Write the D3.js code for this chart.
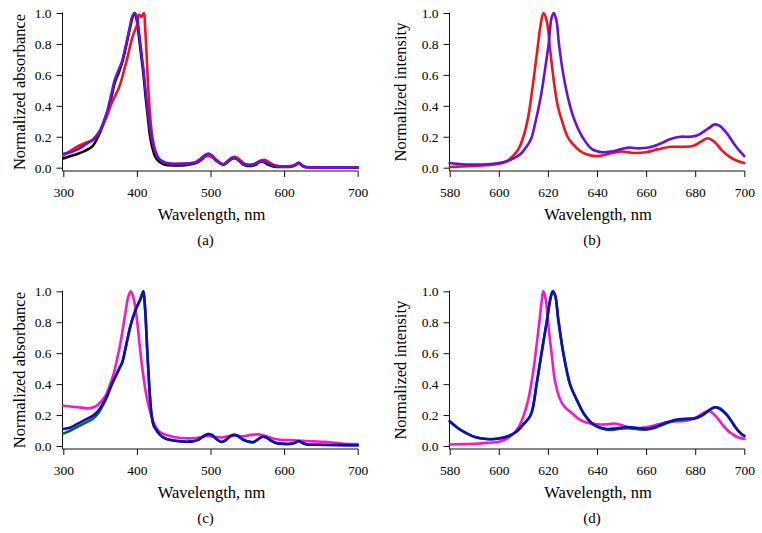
<!DOCTYPE html>
<html><head><meta charset="utf-8">
<script src="https://cdn.jsdelivr.net/npm/d3@7"></script>
<style>
body{margin:0;background:#fff}
svg{display:block}
text{font-family:"Liberation Serif","Times New Roman",serif;fill:#000}
</style>
</head><body>
<svg id="chart" width="762" height="533"></svg>
<script>
// ---------- tick labels ----------
const yTickValues = [0, 0.2, 0.4, 0.6, 0.8, 1.0];
const absTickValues = [300, 400, 500, 600, 700];
const emTickValues = [580, 600, 620, 640, 660, 680, 700];
const absDomain = [300, 700];
const emDomain = [580, 700];
const panelLetters = ["(a)", "(b)", "(c)", "(d)"];
const absTitle = "Normalized absorbance";
const emTitle = "Normalized intensity";
const xTitle = "Wavelength, nm";

// ---------- panel (a): absorbance ----------
const aBlackWl = [300,310,320,330,340,345,350,355,360,365,370,375,380,385,390,394,397,400,403,406,409,412,415,418,421,425,430,435,440,450,460,470,480,487,492,497,502,507,512,518,524,530,534,539,544,550,556,562,568,573,578,584,590,600,610,615,620,624,628,635,650,700];
const aBlack   = [0.06,0.075,0.09,0.11,0.14,0.18,0.23,0.29,0.36,0.45,0.55,0.61,0.68,0.78,0.89,0.97,1.0,0.95,0.84,0.72,0.6,0.45,0.32,0.2,0.13,0.07,0.04,0.025,0.017,0.014,0.015,0.02,0.03,0.05,0.07,0.082,0.07,0.05,0.03,0.02,0.04,0.06,0.06,0.045,0.022,0.012,0.012,0.02,0.04,0.035,0.02,0.01,0.005,0.005,0.007,0.015,0.03,0.015,0.005,0.002,0.0,0.0];

const aRedWl = [300,310,320,330,340,345,350,355,360,365,370,375,378,382,386,390,395,400,403,406,409.5,411,413,415,417,419,421,425,430,435,440,450,460,470,480,487,492,497,502,507,512,518,524,530,535,540,545,550,556,562,568,574,580,586,592,600,610,615,620,624,628,635,650,700];
const aRed   = [0.08,0.11,0.14,0.16,0.18,0.21,0.24,0.29,0.34,0.41,0.46,0.51,0.55,0.62,0.69,0.77,0.86,0.92,0.99,0.975,1.0,0.92,0.75,0.55,0.4,0.28,0.2,0.11,0.06,0.04,0.03,0.025,0.025,0.028,0.035,0.055,0.07,0.078,0.07,0.05,0.032,0.022,0.045,0.068,0.068,0.05,0.03,0.02,0.02,0.03,0.045,0.05,0.035,0.018,0.01,0.008,0.01,0.018,0.03,0.016,0.006,0.003,0.002,0.002];

const aPurpleWl = [300,310,320,330,340,345,350,355,360,365,370,375,380,385,390,394,397,400,403,406,409,412,415,418,421,425,430,435,440,450,460,470,480,487,492,497,502,507,512,518,524,530,534,539,544,550,556,562,568,573,578,584,590,600,610,615,620,624,628,635,650,700];
const aPurple   = [0.09,0.1,0.12,0.15,0.18,0.2,0.24,0.3,0.37,0.47,0.57,0.63,0.69,0.79,0.9,0.98,1.0,0.97,0.87,0.75,0.63,0.49,0.36,0.25,0.17,0.1,0.055,0.04,0.03,0.024,0.025,0.028,0.035,0.06,0.08,0.092,0.08,0.055,0.035,0.022,0.045,0.065,0.062,0.045,0.025,0.018,0.018,0.028,0.045,0.04,0.03,0.018,0.01,0.008,0.01,0.018,0.032,0.018,0.006,0.003,0.002,0.002];

// ---------- panel (b): emission ----------
const bRedWl = [580,585,590,595,600,603,606,608,610,612,614,616,617,618.2,619.5,621,622.5,624,626,628,630,633,636,640,645,650,655,660,665,670,675,679,682,685,688,691,694,697,700];
const bRed   = [0.005,0.008,0.012,0.016,0.025,0.04,0.08,0.12,0.2,0.33,0.55,0.8,0.92,1.0,0.95,0.75,0.55,0.4,0.29,0.2,0.155,0.11,0.085,0.075,0.09,0.105,0.095,0.1,0.12,0.135,0.135,0.14,0.165,0.19,0.165,0.11,0.07,0.045,0.03];

const bPurpleWl = [580,585,590,595,600,603,606,609,611,613,615,617,618.5,620.3,621.5,622.4,623.5,624.5,626.3,629,631,634,638,642,646,650,653,657,661,665,670,674,678,681,685,688,690,693,696,698,700];
const bPurple   = [0.03,0.022,0.02,0.022,0.03,0.04,0.06,0.09,0.13,0.18,0.3,0.45,0.6,0.8,0.97,1.0,0.95,0.8,0.6,0.4,0.3,0.2,0.12,0.1,0.105,0.12,0.13,0.125,0.13,0.15,0.185,0.2,0.2,0.21,0.25,0.28,0.27,0.22,0.15,0.11,0.075];

// ---------- panel (c): absorbance ----------
const cMagentaWl = [300,310,320,330,337,345,352,358,363,368,373,377,381,385,388,391.5,394,397,400,404,408,411,414,418,422,426,431,438,445,455,465,475,485,495,505,515,525,535,545,555,565,575,585,595,610,625,640,655,670,685,700];
const cMagenta   = [0.26,0.255,0.25,0.245,0.245,0.26,0.29,0.33,0.39,0.46,0.56,0.65,0.76,0.88,0.96,1.0,0.98,0.92,0.82,0.64,0.48,0.38,0.3,0.22,0.16,0.12,0.09,0.075,0.065,0.055,0.05,0.05,0.055,0.065,0.06,0.055,0.065,0.068,0.062,0.072,0.075,0.065,0.048,0.04,0.038,0.033,0.03,0.027,0.02,0.013,0.012];

const cSeriesWl = [300,310,320,330,340,348,354,360,366,372,376,380,384,388,392,396,400,404,407,408.7,410,412,414,416,418,420,423,427,432,438,445,455,465,475,482,488,493,497,502,508,515,520,526,532,537,543,550,558,565,571,576,582,590,600,608,614,620,625,631,645,670,700];
const cGreen = [0.08,0.1,0.125,0.15,0.175,0.215,0.265,0.325,0.4,0.46,0.5,0.54,0.62,0.71,0.79,0.85,0.9,0.94,0.98,1.0,0.96,0.82,0.62,0.45,0.3,0.2,0.13,0.1,0.07,0.05,0.04,0.032,0.028,0.03,0.038,0.055,0.07,0.078,0.07,0.045,0.026,0.035,0.06,0.073,0.065,0.045,0.03,0.025,0.045,0.06,0.055,0.035,0.018,0.014,0.014,0.02,0.032,0.02,0.01,0.008,0.006,0.005];
const cBlue  = [0.11,0.12,0.145,0.17,0.195,0.23,0.275,0.33,0.4,0.46,0.5,0.54,0.62,0.71,0.79,0.85,0.9,0.94,0.98,1.0,0.96,0.82,0.62,0.45,0.3,0.2,0.13,0.1,0.07,0.05,0.04,0.032,0.028,0.03,0.038,0.055,0.07,0.078,0.07,0.045,0.026,0.035,0.06,0.073,0.065,0.045,0.03,0.025,0.045,0.06,0.055,0.035,0.018,0.014,0.014,0.02,0.032,0.02,0.01,0.008,0.006,0.005];

// ---------- panel (d): emission ----------
const dMagentaWl = [580,585,590,595,600,603,606,608,610,612,614,615,616.5,617.5,618.1,619,620.4,621.5,622.9,625,627,630,633,636,640,644,647,650,653,657,661,665,669,673,677,681,684,686,688,691,694,697,700];
const dMagenta   = [0.01,0.012,0.015,0.02,0.028,0.045,0.08,0.12,0.19,0.3,0.48,0.6,0.8,0.94,1.0,0.96,0.75,0.6,0.42,0.3,0.25,0.21,0.17,0.15,0.14,0.14,0.145,0.135,0.12,0.115,0.125,0.14,0.155,0.16,0.165,0.19,0.22,0.225,0.2,0.14,0.09,0.06,0.045];

const dSeriesWl = [580,583,586,590,595,600,604,607,610,613,615.4,617.4,619.5,621,622,623,624.2,626.3,629,631.7,635,638.5,643.9,648,652,656,660,664,668,672,676,680,683,686,688,690,693,696,698,700];
const dGreen = [0.16,0.12,0.09,0.06,0.045,0.048,0.065,0.09,0.14,0.2,0.4,0.6,0.8,0.95,1.0,0.97,0.82,0.6,0.4,0.3,0.2,0.14,0.105,0.108,0.115,0.11,0.105,0.12,0.145,0.165,0.172,0.178,0.2,0.235,0.25,0.245,0.2,0.13,0.09,0.065];
const dBlue  = [0.16,0.12,0.09,0.06,0.045,0.048,0.065,0.09,0.14,0.2,0.4,0.6,0.8,0.95,1.0,0.97,0.82,0.6,0.4,0.3,0.2,0.14,0.11,0.115,0.122,0.118,0.112,0.125,0.15,0.17,0.176,0.18,0.2,0.235,0.25,0.24,0.2,0.13,0.09,0.065];

// ---------- drawing ----------
const svg = d3.select("#chart");
const colors = {black:"#000000", red:"#f0141a", purple:"#6a10dc", magenta:"#ff14c8", green:"#0b6a1e", blue:"#0c0cc4"};

const panels = [
  {x0:63.3, x1:357.7, yTop:13, yZero:167.7, axisY:171, domain:absDomain, ticks:absTickValues, ytitle:absTitle, letter:panelLetters[0], titleX:25,
   series:[[aBlackWl,aBlack,"black"],[aRedWl,aRed,"red"],[aPurpleWl,aPurple,"purple"]]},
  {x0:449.7, x1:744.3, yTop:13, yZero:167.7, axisY:171, domain:emDomain, ticks:emTickValues, ytitle:emTitle, letter:panelLetters[1], titleX:405.5,
   series:[[bRedWl,bRed,"red"],[bPurpleWl,bPurple,"purple"]]},
  {x0:63.3, x1:357.7, yTop:291.3, yZero:446, axisY:449, domain:absDomain, ticks:absTickValues, ytitle:absTitle, letter:panelLetters[2], titleX:25,
   series:[[cMagentaWl,cMagenta,"magenta"],[cSeriesWl,cGreen,"green"],[cSeriesWl,cBlue,"blue"]]},
  {x0:449.7, x1:744.3, yTop:291.3, yZero:446, axisY:449, domain:emDomain, ticks:emTickValues, ytitle:emTitle, letter:panelLetters[3], titleX:405.5,
   series:[[dMagentaWl,dMagenta,"magenta"],[dSeriesWl,dGreen,"green"],[dSeriesWl,dBlue,"blue"]]}
];

panels.forEach(p => {
  const x = d3.scaleLinear().domain(p.domain).range([p.x0, p.x1]);
  const y = d3.scaleLinear().domain([0, 1]).range([p.yZero, p.yTop]);
  const g = svg.append("g");
  const axisX = Math.round(p.x0) - 0.5;

  // y axis
  const ya = g.append("g").attr("transform", `translate(${axisX},0)`)
    .call(d3.axisLeft(y).tickValues(yTickValues).tickFormat(d3.format(".1f")).tickSize(6).tickPadding(5));
  ya.select(".domain").remove();
  ya.selectAll("text").style("font-size", "13.5px").style("font-family", "'Liberation Serif', serif");
  ya.selectAll("line").attr("stroke", "#111");
  g.append("line").attr("x1", axisX).attr("x2", axisX).attr("y1", p.yTop - 0.5).attr("y2", p.axisY)
    .attr("stroke", "#111").attr("stroke-width", 1);

  // x axis
  const xa = g.append("g").attr("transform", `translate(0,${p.axisY})`)
    .call(d3.axisBottom(x).tickValues(p.ticks).tickFormat(d3.format("d")).tickSize(6).tickPadding(10.3));
  xa.select(".domain").remove();
  xa.selectAll("text").style("font-size", "13.5px").style("font-family", "'Liberation Serif', serif");
  xa.selectAll("line").attr("stroke", "#111");
  g.append("line").attr("x1", axisX).attr("x2", p.x1 + 0.5).attr("y1", p.axisY).attr("y2", p.axisY)
    .attr("stroke", "#111").attr("stroke-width", 1);

  // series
  const line = d3.line().x(d => x(d[0])).y(d => y(d[1])).curve(d3.curveCatmullRom.alpha(0.5));
  p.series.forEach(([wl, vals, c]) => {
    const pts = wl.map((w, i) => [w, vals[i]]);
    g.append("path").datum(pts).attr("d", line)
      .attr("fill", "none").attr("stroke", colors[c]).attr("stroke-width", 2.6)
      .attr("stroke-linejoin", "round").attr("stroke-linecap", "round");
  });

  // titles
  const cx = (p.x0 + p.x1) / 2;
  g.append("text").attr("x", cx + 1).attr("y", p.axisY + 48.5).attr("text-anchor", "middle")
    .style("font-size", "16.5px").text(xTitle);
  g.append("text").attr("transform", `translate(${p.titleX},${(p.yTop + p.axisY) / 2}) rotate(-90)`)
    .attr("text-anchor", "middle").style("font-size", "16.5px").text(p.ytitle);
  g.append("text").attr("x", cx - 5).attr("y", p.axisY + 74).attr("text-anchor", "middle")
    .style("font-size", "15px").text(p.letter);
});
</script>
</body></html>
